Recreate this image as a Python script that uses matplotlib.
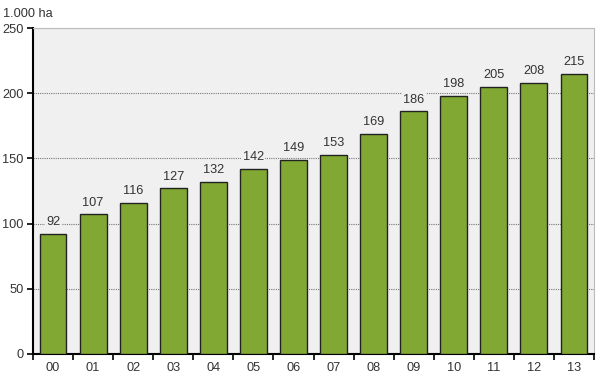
import numpy as np
import matplotlib
matplotlib.use("Agg")
import matplotlib.pyplot as plt

years = ["00", "01", "02", "03", "04", "05", "06", "07", "08", "09", "10", "11", "12", "13"]
area = [92, 107, 116, 127, 132, 142, 149, 153, 169, 186, 198, 205, 208, 215]

BAR_COLOR = "#80a832"
BG = "#f0f0f0"
TEXT = "#333333"
plt.rcParams["font.family"] = ["Liberation Sans", "DejaVu Sans"]
plt.rcParams["font.size"] = 9.2

fig = plt.figure(figsize=(6.0, 3.79), dpi=100)
ax = fig.add_axes([0.055, 0.066, 0.935, 0.86])
ax.set_facecolor(BG)

x = np.arange(len(years))
ax.bar(x, area, width=0.67, color=BAR_COLOR, edgecolor="#222222", linewidth=1.0, zorder=3)
for xi, v in zip(x, area):
    ax.text(xi, v + 4.5, str(v), ha="center", va="bottom", color=TEXT, zorder=4,
            bbox=dict(facecolor=BG, edgecolor="none", pad=1.0))

ax.set_xlim(-0.5, len(years) - 0.5)
ax.set_ylim(0, 250)
ax.set_yticks(np.arange(0, 251, 50))
ax.yaxis.grid(True, linestyle=(0, (1, 1)), color="#777777", linewidth=0.8, zorder=1)

ax.set_xticks(x)
ax.set_xticklabels(years, color=TEXT)
ax.tick_params(axis="x", which="major", length=0, pad=6)
ax.set_xticks(np.arange(-0.5, len(years)), minor=True)
ax.tick_params(axis="x", which="minor", length=4, width=1.2, direction="out")
ax.tick_params(axis="y", length=4, width=1.2, direction="out", pad=3, labelcolor=TEXT)

for side in ("left", "bottom"):
    ax.spines[side].set_color("black")
    ax.spines[side].set_linewidth(1.5)
for side in ("top", "right"):
    ax.spines[side].set_color("#bbbbbb")
    ax.spines[side].set_linewidth(0.8)

fig.text(0.005, 0.962, "1.000 ha", ha="left", va="center", color=TEXT)

fig.savefig("out.png", dpi=100)
